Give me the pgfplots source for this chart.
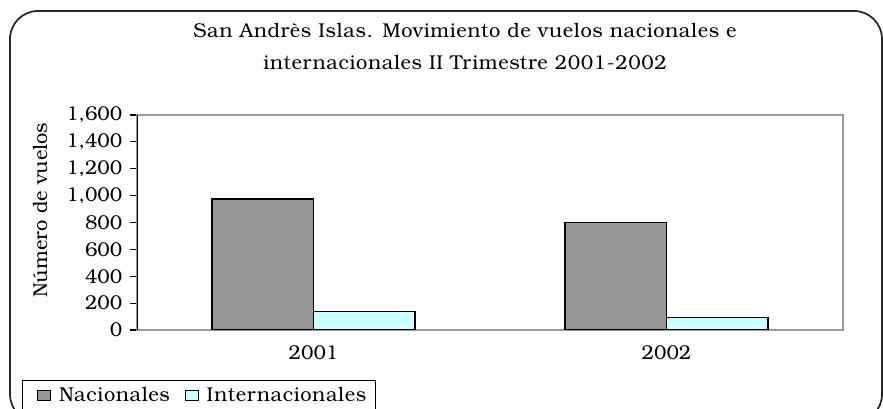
\documentclass[border=0pt]{standalone}
\usepackage{fontspec}
\setmainfont{texgyrebonum-regular.otf}
\newfontfamily\spaced[LetterSpace=3]{texgyrebonum-regular.otf}
\usepackage{pgfplots}
\pgfplotsset{compat=1.18}
\definecolor{nacgray}{HTML}{969696}
\definecolor{intcyan}{HTML}{CCFFFF}
\definecolor{framegray}{HTML}{999999}
\begin{document}
\begin{tikzpicture}[font=\fontsize{15}{18}\selectfont]
\useasboundingbox (0pt,0pt) rectangle (662.25pt,306.75pt);
\draw[line width=1.3pt, color=black!85, rounded corners=21pt] (7.5pt,298.5pt) -- (661.5pt,298.5pt) -- (661.5pt,-10pt) -- (7.5pt,-10pt) -- cycle;
\node[align=center, font=\spaced\fontsize{15}{24}\selectfont] at (348.75pt,272pt) {San Andrès Islas. Movimiento de vuelos nacionales e\\internacionales II Trimestre 2001-2002};
\begin{axis}[
  at={(102.75pt,59.25pt)}, anchor=south west,
  scale only axis, width=529.5pt, height=161.25pt,
  xmin=-0.5, xmax=1.5, ymin=0, ymax=1600,
  xtick={0,1}, xticklabels={2001,2002},
  ytick={0,200,...,1600},
  x tick style={draw=none},
  ytick pos=left, tick align=outside, major tick length=5pt,
  y tick style={black, line width=0.8pt},
  axis line style={framegray, line width=1pt},
  ybar=0pt, bar width=0.288,
  /pgf/number format/.cd, 1000 sep={,}, assume math mode=true, /pgfplots/.cd,
  tick label style={font=\fontsize{15}{18}\selectfont},
  xticklabel style={yshift=-3pt},
  yticklabel style={xshift=-2.5pt},
  ylabel={Número de vuelos},
  ylabel style={at={(axis description cs:-0.1374,0.558)}, anchor=center, rotate=0, font=\fontsize{15}{18}\selectfont},
  legend style={at={(axis description cs:-0.163,-0.2326)}, anchor=north west, legend columns=2, draw=black, line width=0.6pt, font=\spaced\fontsize{15}{18}\selectfont, inner xsep=5pt, inner ysep=3pt, /tikz/every even column/.append style={column sep=6pt}},
  legend cell align=left,
]
\addplot[fill=nacgray, draw=black, line width=1.1pt, legend image code/.code={\path (0pt,0pt) (19.5pt,0pt); \draw[fill=nacgray, draw=black, line width=0.6pt] (6pt,-4pt) rectangle (15.75pt,4pt);}] coordinates {(0,975) (1,798)};
\addplot[fill=intcyan, draw=black, line width=1.1pt, legend image code/.code={\path (0pt,0pt) (16.5pt,0pt); \draw[fill=intcyan, draw=black, line width=0.6pt] (3pt,-4pt) rectangle (12.75pt,4pt);}] coordinates {(0,136) (1,92)};
\legend{Nacionales, Internacionales}
\draw[black, line width=1pt] (rel axis cs:0,0) -- (rel axis cs:0,1);
\end{axis}
\end{tikzpicture}
\end{document}
